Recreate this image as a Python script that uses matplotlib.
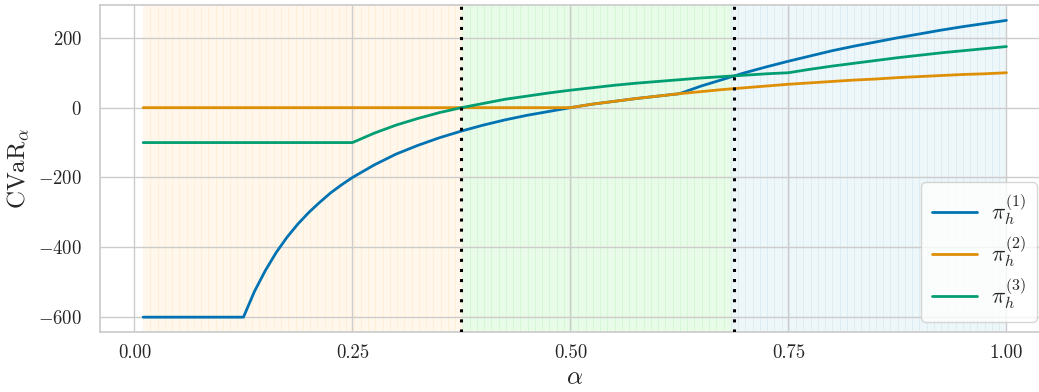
import numpy as np
import matplotlib
matplotlib.use("Agg")
import matplotlib.pyplot as plt
import seaborn as sns

# values
alpha = [0.01, 0.025, 0.05, 0.075, 0.1, 0.125, 0.1375, 0.15, 0.1625, 0.175, 0.1875,
         0.2, 0.2125, 0.225, 0.2375, 0.25, 0.275, 0.3, 0.325, 0.35, 0.375, 0.4,
         0.425, 0.45, 0.475, 0.5, 0.525, 0.55, 0.575, 0.6, 0.625, 0.65, 0.675,
         0.7, 0.725, 0.75, 0.775, 0.8, 0.825, 0.85, 0.875, 0.9, 0.925, 0.95,
         0.975, 1.0]
cvar_pi1 = [-600, -600, -600, -600, -600, -600, -527, -467, -415, -371, -333,
            -300, -271, -244, -221, -200, -164, -133, -108, -86, -67, -50,
            -35, -22, -11, 0, 10, 18, 26, 33, 40, 62, 81,
            100, 117, 133, 148, 163, 176, 188, 200, 211, 222, 232,
            241, 250]
cvar_pi2 = [0, 0, 0, 0, 0, 0, 0, 0, 0, 0, 0,
            0, 0, 0, 0, 0, 0, 0, 0, 0, 0, 0,
            0, 0, 0, 0, 10, 18, 26, 33, 40, 46, 52,
            57, 62, 67, 71, 75, 79, 82, 86, 89, 92, 95,
            97, 100]
cvar_pi3 = [-100, -100, -100, -100, -100, -100, -100, -100, -100, -100, -100,
            -100, -100, -100, -100, -100, -73, -50, -31, -14, 0, 12,
            24, 33, 42, 50, 57, 64, 70, 75, 80, 85, 89,
            93, 97, 100, 110, 119, 127, 135, 143, 150, 157, 163,
            169, 175]
labels = [r"$\pi_h^{(1)}$", r"$\pi_h^{(2)}$", r"$\pi_h^{(3)}$"]

# where the best policy switches
switch_points = [0.375, 0.6875]
region_colors = ["#ffa500", "#90ee90", "#add8e6"]
region_alphas = [0.08, 0.2, 0.22]
n_stripes = 120

sns.set_theme(style="whitegrid", palette="colorblind")
plt.rcParams["font.family"] = "serif"
plt.rcParams["font.serif"] = ["cmr10"]
plt.rcParams["mathtext.fontset"] = "cm"
plt.rcParams["axes.formatter.use_mathtext"] = True
plt.rcParams["axes.unicode_minus"] = True

fig = plt.figure(figsize=(10.39, 3.92), dpi=100)
ax = fig.add_axes([100 / 1039, 1 - 332 / 392, 949.6 / 1039, 327 / 392])

# shaded background, one thin span per grid step
grid = np.linspace(alpha[0], alpha[-1], n_stripes)
for a0, a1 in zip(grid[:-1], grid[1:]):
    mid = 0.5 * (a0 + a1)
    k = int(np.searchsorted(switch_points, mid))
    ax.axvspan(a0, a1, facecolor=region_colors[k], alpha=region_alphas[k],
               edgecolor=region_colors[k], lw=0.4, zorder=0)

pal = sns.color_palette("colorblind")
for vals, lab, c in zip([cvar_pi1, cvar_pi2, cvar_pi3], labels, pal):
    ax.plot(alpha, vals, color=c, lw=2.0, label=lab, zorder=3)

for s in switch_points:
    ax.axvline(s, color="black", lw=2.2, linestyle=(0, (1, 2.3)), zorder=4)

ax.set_xlim(-0.0395, 1.0495)
ax.set_ylim(-642.5, 294)
ax.set_xticks([0.0, 0.25, 0.5, 0.75, 1.0])
ax.set_xticklabels(["0.00", "0.25", "0.50", "0.75", "1.00"])
ax.set_yticks([-600, -400, -200, 0, 200])
ax.tick_params(axis="x", labelsize=13.5, pad=3, colors="0.15")
ax.tick_params(axis="y", labelsize=13.5, pad=7, colors="0.15")
ax.set_xlabel(r"$\alpha$", fontsize=18, labelpad=3)
ax.set_ylabel(r"$\mathrm{CVaR}_\alpha$", fontsize=18, labelpad=5)

ax.legend(loc="lower right", bbox_to_anchor=(1037 / 1039, 1 - 322 / 392),
          bbox_transform=fig.transFigure, borderaxespad=0, fontsize=16.5,
          handlelength=2.0, handletextpad=0.6, labelspacing=0.3,
          borderpad=0.45, framealpha=0.8)

fig.savefig("out.png", dpi=100)
